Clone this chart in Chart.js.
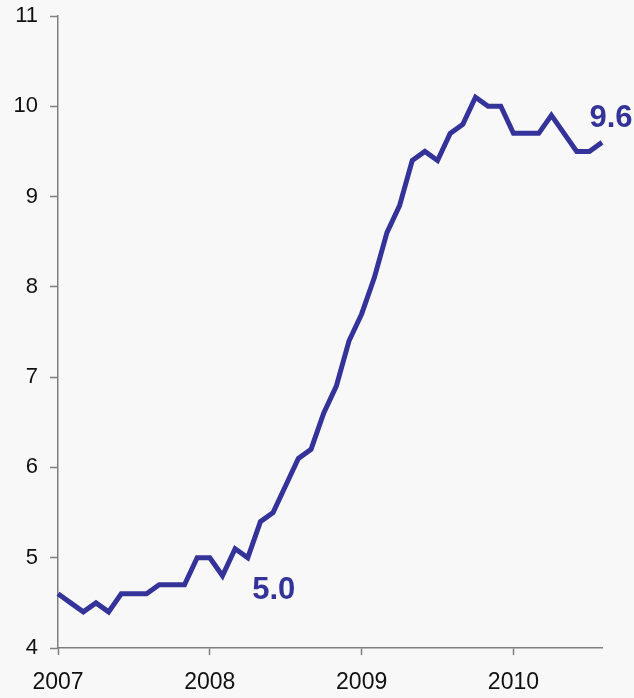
<!DOCTYPE html>
<html lang="en">
<head>
    <meta charset="UTF-8">
    <title>Unemployment rate</title>
    <script src="https://cdn.jsdelivr.net/npm/chart.js"></script>
    <style>
        body { margin: 0; background: #f8f8f8; }
        .box-grafico { position: relative; width: 634px; height: 698px; }
    </style>
</head>
<body>
    <div class="box-grafico">
        <canvas id="grafico_linha"></canvas>
    </div>
<script>
    // monthly values, Jan 2007 .. Aug 2010
    var anos = [2007, 2008, 2009, 2010];
    var meses = ['Jan', 'Feb', 'Mar', 'Apr', 'May', 'Jun', 'Jul', 'Aug', 'Sep', 'Oct', 'Nov', 'Dec'];
    var taxa2007 = [4.6, 4.5, 4.4, 4.5, 4.4, 4.6, 4.6, 4.6, 4.7, 4.7, 4.7, 5.0];
    var taxa2008 = [5.0, 4.8, 5.1, 5.0, 5.4, 5.5, 5.8, 6.1, 6.2, 6.6, 6.9, 7.4];
    var taxa2009 = [7.7, 8.1, 8.6, 8.9, 9.4, 9.5, 9.4, 9.7, 9.8, 10.1, 10.0, 10.0];
    var taxa2010 = [9.7, 9.7, 9.7, 9.9, 9.7, 9.5, 9.5, 9.6];
    var yTicks = [4, 5, 6, 7, 8, 9, 10, 11];
    // annotated points: index in series, text
    var rotuloIdx = [15, 43];
    var rotuloTxt = ['5.0', '9.6'];

    var series = [taxa2007, taxa2008, taxa2009, taxa2010];
    var labels = [];
    var valores = [];
    for (var a = 0; a < anos.length; a++) {
        for (var m = 0; m < series[a].length; m++) {
            labels.push(meses[m] + ' ' + anos[a]);
            valores.push(series[a][m]);
        }
    }

    var corLinha = '#333399';
    var corEixo = '#7f7f7f';
    var fonte = '"Liberation Sans", Arial, sans-serif';

    const rotulos = {
        id: 'rotulos',
        afterDatasetsDraw(chart) {
            var ctx = chart.ctx;
            var pts = chart.getDatasetMeta(0).data;
            ctx.save();
            ctx.fillStyle = corLinha;
            ctx.font = 'bold 31px ' + fonte;
            ctx.textAlign = 'center';
            ctx.textBaseline = 'middle';
            // 5.0 sits below right of its point, 9.6 above right of the end
            var offs = [[26, 33], [9, -24]];
            for (var i = 0; i < rotuloIdx.length; i++) {
                var p = pts[rotuloIdx[i]];
                ctx.fillText(rotuloTxt[i], p.x + offs[i][0], p.y + offs[i][1]);
            }
            ctx.restore();
        }
    };

    const chart = new Chart('grafico_linha', {
        type: 'line',
        data: {
            labels: labels,
            datasets: [{
                data: valores,
                borderColor: corLinha,
                borderWidth: 5,
                pointRadius: 0,
                tension: 0,
                borderJoinStyle: 'miter'
            }]
        },
        options: {
            responsive: true,
            maintainAspectRatio: false,
            animation: false,
            layout: { padding: { top: 16, right: 32, left: 0, bottom: 0 } },
            plugins: { legend: { display: false }, tooltip: { enabled: false } },
            scales: {
                x: {
                    offset: false,
                    afterFit: function (s) { s.height = 50; s.paddingLeft = 0; s.paddingRight = 0; },
                    border: { color: corEixo, width: 1.5 },
                    grid: {
                        drawOnChartArea: false,
                        tickLength: 7,
                        tickWidth: 1.5,
                        tickColor: function (c) { return c.index % 12 === 0 ? corEixo : 'rgba(0,0,0,0)'; }
                    },
                    ticks: {
                        autoSkip: false,
                        maxRotation: 0,
                        padding: 14,
                        color: '#111',
                        font: { family: fonte, size: 23 },
                        callback: function (v, i) { return i % 12 === 0 ? labels[i].slice(4) : ''; }
                    }
                },
                y: {
                    min: yTicks[0],
                    max: yTicks[yTicks.length - 1],
                    afterFit: function (s) { s.width = 58; s.paddingTop = 0; s.paddingBottom = 0; },
                    afterBuildTicks: function (s) { s.ticks = yTicks.map(function (v) { return { value: v }; }); },
                    border: { color: corEixo, width: 1.5 },
                    grid: { drawOnChartArea: false, tickLength: 8, tickWidth: 1.5, tickColor: corEixo },
                    ticks: {
                        padding: 12,
                        color: '#111',
                        font: { family: fonte, size: 22 }
                    }
                }
            }
        },
        plugins: [rotulos]
    });
</script>
</body>
</html>
